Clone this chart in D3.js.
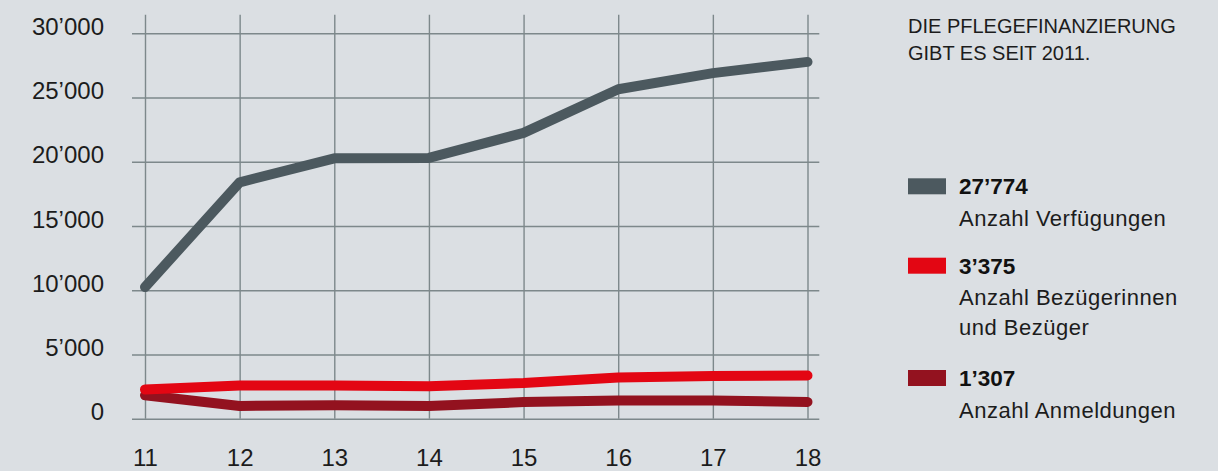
<!DOCTYPE html>
<html lang="de">
<head>
<meta charset="utf-8">
<script src="https://cdn.jsdelivr.net/npm/d3@7"></script>
<style>
  html, body { margin: 0; padding: 0; background: #dbdfe3; }
  svg { display: block; font-family: "Liberation Sans", Arial, Helvetica, sans-serif; }
  .axis text { fill: #1c1c1c; font-size: 24px; }
  .axis line { stroke: #7d888b; stroke-width: 1.4px; }
  .axis path.domain { display: none; }
</style>
</head>
<body>
<svg id="chart" width="1218" height="471"></svg>
<script>
// Jahre (20xx) und Zeitreihen
const years = [11, 12, 13, 14, 15, 16, 17, 18];
const verfuegungen = [10250, 18400, 20270, 20300, 22250, 25650, 26900, 27774];
const bezueger = [2280, 2600, 2600, 2530, 2780, 3220, 3340, 3375];
const anmeldungen = [1830, 1000, 1050, 1000, 1300, 1430, 1430, 1307];

const yTicks = [0, 5000, 10000, 15000, 20000, 25000, 30000];

const seriesNames = ["Anzahl Verfügungen", "Anzahl Bezügerinnen\nund Bezüger", "Anzahl Anmeldungen"];
const seriesColors = ["#4c595f", "#e30613", "#93121f"];
const titleLines = ["DIE PFLEGEFINANZIERUNG", "GIBT ES SEIT 2011."];

const series = [
  { name: seriesNames[0], color: seriesColors[0], values: verfuegungen },
  { name: seriesNames[1], color: seriesColors[1], values: bezueger },
  { name: seriesNames[2], color: seriesColors[2], values: anmeldungen }
];

const locale = d3.formatLocale({ decimal: ".", thousands: "’", grouping: [3], currency: ["", ""] });
const fmt = locale.format(",");

const svg = d3.select("#chart");

const gridLeft = 132, gridRight = 819.3, gridTop = 14.7;
const x = d3.scaleLinear().domain([11, 18]).range([145, 807.5]);
const y = d3.scaleLinear().domain([0, 30000]).range([418.8, 33.3]);

// horizontale Rasterlinien + Beschriftung links
const yAxis = svg.append("g")
  .attr("class", "axis y")
  .attr("transform", `translate(${gridLeft},0)`)
  .call(d3.axisLeft(y).tickValues(yTicks).tickFormat(fmt)
    .tickSize(-(gridRight - gridLeft)).tickPadding(28));
yAxis.selectAll("text").attr("dy", "0.04em");

// vertikale Rasterlinien + Jahre unten
const xAxis = svg.append("g")
  .attr("class", "axis x")
  .attr("transform", `translate(0,${y(0)})`)
  .call(d3.axisBottom(x).tickValues(years).tickFormat(d => d)
    .tickSize(-(y(0) - gridTop)).tickPadding(0));
xAxis.selectAll("text").attr("dy", null).attr("y", 47);

// Linien
const line = d3.line()
  .x((d, i) => x(years[i]))
  .y(d => y(d));

svg.append("g")
  .selectAll("path")
  .data(series.slice().reverse())
  .join("path")
  .attr("d", d => line(d.values))
  .attr("fill", "none")
  .attr("stroke", d => d.color)
  .attr("stroke-width", 10)
  .attr("stroke-linecap", "round")
  .attr("stroke-linejoin", "round");

// Titel rechts
svg.append("text")
  .attr("x", 908)
  .attr("y", 33.3)
  .attr("font-size", 20)
  .attr("fill", "#1c1c1c")
  .selectAll("tspan")
  .data(titleLines)
  .join("tspan")
  .attr("x", 908)
  .attr("dy", (d, i) => i === 0 ? 0 : 26.7)
  .text(d => d);

// Legende
const legendTops = [178.3, 257.7, 370];
const legend = svg.append("g")
  .selectAll("g")
  .data(series)
  .join("g")
  .attr("transform", (d, i) => `translate(908,${legendTops[i]})`);

legend.append("rect")
  .attr("width", 38)
  .attr("height", 16)
  .attr("fill", d => d.color);

legend.append("text")
  .attr("x", 51)
  .attr("y", 16)
  .attr("font-size", 22.5)
  .attr("font-weight", "bold")
  .attr("fill", "#111")
  .text(d => fmt(d.values[d.values.length - 1]));

legend.append("text")
  .attr("x", 51)
  .attr("y", 47.5)
  .attr("font-size", 22)
  .attr("letter-spacing", "0.5px")
  .attr("fill", "#1c1c1c")
  .selectAll("tspan")
  .data(d => d.name.split("\n"))
  .join("tspan")
  .attr("x", 51)
  .attr("dy", (d, i) => i === 0 ? 0 : 30)
  .text(d => d);
</script>
</body>
</html>
